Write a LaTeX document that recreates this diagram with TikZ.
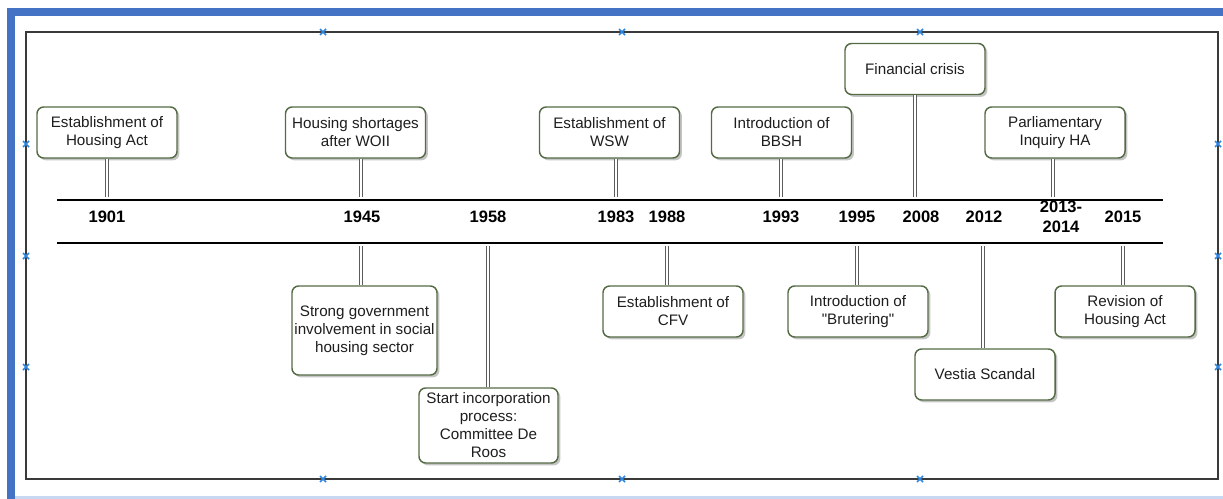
\documentclass[tikz,border=0pt]{standalone}
\usepackage{fontspec}
\setmainfont{Liberation Sans}[Ligatures=TeXOff]
\usepackage{xcolor}
\usetikzlibrary{shadows}
\definecolor{frameblue}{HTML}{4472C4}
\definecolor{paleblue}{HTML}{C9D8F2}
\definecolor{handle}{HTML}{2E86DE}
\definecolor{boxline}{HTML}{556B45}
\definecolor{ink}{HTML}{1E1E1E}
\definecolor{rule}{HTML}{3A3A3A}
\definecolor{stem}{HTML}{5C5C5C}
\tikzset{
  event/.style={draw=boxline, line width=1.1pt, rounded corners=5pt, fill=white,
    text=ink, align=center, inner sep=0pt, minimum width=105pt, minimum height=38.25pt,
    font=\fontsize{11.4}{13.5}\selectfont,
    drop shadow={shadow xshift=1.8pt, shadow yshift=-1.8pt, fill=black!45}},
  year/.style={text=black, align=center, font=\fontsize{12.4}{15}\selectfont\bfseries},
  link/.style={draw=stem, double=white, double distance=1.7pt, line width=0.8pt},
  axis/.style={draw=black, line width=0.9pt},
  frame/.style={draw=rule, line width=1.2pt},
  handle/.style={draw=handle, line width=1.1pt}
}

\begin{document}
\begin{tikzpicture}[x=0.75pt, y=-0.75pt]
  \useasboundingbox (0,0) rectangle (1223,499);

  % window frame
  \fill[frameblue] (7,8) rectangle (15,499);
  \fill[frameblue] (7,8) rectangle (1223,16);
  \fill[paleblue] (15,496) rectangle (1223,499);
  \draw[frame] (26,32) rectangle (1218,479);
  \foreach \x/\y in {323/32, 622/32, 920/32, 26/144, 26/256, 26/367,
                     1218/144, 1218/256, 1218/367, 323/479, 622/479, 920/479}
    \draw[handle] (\x-3,\y-3) -- (\x+3,\y+3) (\x-3,\y+3) -- (\x+3,\y-3);

  % time axis
  \draw[axis] (57,200) -- (1163,200);
  \draw[axis] (57,243) -- (1163,243);

  \node[year] (y1901) at (107,216.5) {1901};
  \node[year] (y1945) at (362,216.5) {1945};
  \node[year] (y1958) at (488,216.5) {1958};
  \node[year] (y1983) at (616,216.5) {1983};
  \node[year] (y1988) at (667,216.5) {1988};
  \node[year] (y1993) at (781,216.5) {1993};
  \node[year] (y1995) at (857,216.5) {1995};
  \node[year] (y2008) at (921,216.5) {2008};
  \node[year] (y2012) at (984,216.5) {2012};
  \node[year] (y2013) at (1061,216.7) {2013-\\2014};
  \node[year] (y2015) at (1123,216.5) {2015};

  % events above the axis
  \node[event] (act) at (107,132.5) {Establishment of\\Housing Act};
  \node[event] (shortage) at (355.5,132.5) {Housing shortages\\after WOII};
  \node[event] (wsw) at (609.5,132.5) {Establishment of\\WSW};
  \node[event] (bbsh) at (781.5,132.5) {Introduction of\\BBSH};
  \node[event] (crisis) at (915,69) {Financial crisis};
  \node[event] (inquiry) at (1055,132.5) {Parliamentary\\Inquiry HA};

  % events below the axis
  \node[event, minimum width=108.75pt, minimum height=66.75pt] (govt) at (364.5,330.5)
    {Strong government\\involvement in social\\housing sector};
  \node[event, minimum width=104.25pt, minimum height=56.25pt] (roos) at (488.5,425.5)
    {Start incorporation\\process:\\Committee De\\Roos};
  \node[event] (cfv) at (673,311.5) {Establishment of\\CFV};
  \node[event] (brut) at (858,311.5) {Introduction of\\"Brutering"};
  \node[event] (vestia) at (985,374.5) {Vestia Scandal};
  \node[event] (revision) at (1125,311.5) {Revision of\\Housing Act};

  % stems
  \foreach \n/\x in {1901/107, 1945/361, 1983/616, 1993/781, 2008/915, 2013/1053}
    \coordinate (t\n) at (\x,197);
  \foreach \n/\x in {1945/361, 1958/488, 1988/667, 1995/857, 2012/983, 2015/1123}
    \coordinate (b\n) at (\x,246);
  \foreach \ev/\n in {act/1901, shortage/1945, wsw/1983, bbsh/1993, crisis/2008, inquiry/2013}
    \draw[link] (\ev.south -| t\n) -- (t\n);
  \foreach \ev/\n in {govt/1945, roos/1958, cfv/1988, brut/1995, vestia/2012, revision/2015}
    \draw[link] (b\n) -- (\ev.north -| b\n);
\end{tikzpicture}
\end{document}
